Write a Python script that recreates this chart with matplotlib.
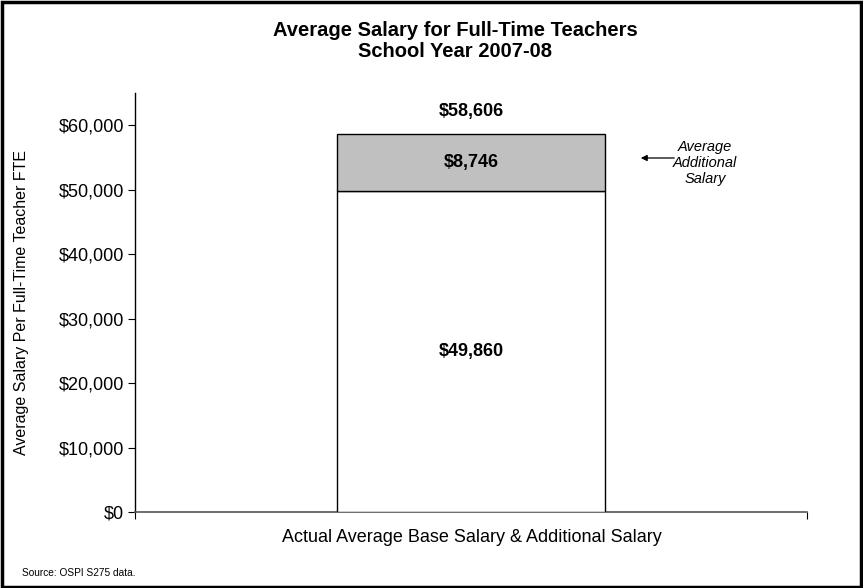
import matplotlib
matplotlib.use('Agg')
import matplotlib.pyplot as plt
import matplotlib.ticker
from matplotlib.patches import Rectangle

plt.rcParams['font.family'] = ['Liberation Sans', 'DejaVu Sans']

category = ['Actual Average Base Salary & Additional Salary']
base_salary = [49860]
additional_salary = [8746]
total_salary = [58606]
y_ticks = [0, 10000, 20000, 30000, 40000, 50000, 60000]

C_BASE = '#FFFFFF'
C_ADD = '#C0C0C0'

W, H = 863, 588
fig = plt.figure(figsize=(W / 100, H / 100), dpi=100)
ax = fig.add_axes([135 / W, 1 - 512 / H, (807 - 135) / W, (512 - 93) / H])

x = [0]
ax.bar(x, base_salary, 0.4, color=C_BASE, edgecolor='black', linewidth=1.0, zorder=3)
ax.bar(x, additional_salary, 0.4, bottom=base_salary, color=C_ADD,
       edgecolor='black', linewidth=1.0, zorder=3)

for i in range(len(x)):
    ax.text(x[i], base_salary[i] / 2, f'${base_salary[i]:,}', ha='center', va='center',
            fontsize=13, fontweight='bold')
    ax.text(x[i], base_salary[i] + additional_salary[i] / 2, f'${additional_salary[i]:,}',
            ha='center', va='center', fontsize=13, fontweight='bold')
    ax.text(x[i], total_salary[i] + 3600, f'${total_salary[i]:,}', ha='center', va='center',
            fontsize=13, fontweight='bold')

ax.set_xlim(-0.5, 0.5)
ax.set_ylim(0, 65000)
ax.set_yticks(y_ticks)
ax.yaxis.set_major_formatter(matplotlib.ticker.FuncFormatter(lambda v, _: f'${v:,.0f}'))
ax.tick_params(axis='y', direction='out', length=5, width=0.8, labelsize=13, pad=3)
ax.set_xticks([-0.5, 0.5])
ax.set_xticklabels(['', ''])
ax.tick_params(axis='x', direction='out', length=5, width=0.8)
ax.spines[['top', 'right']].set_visible(False)
ax.spines['left'].set_linewidth(1.0)
ax.spines['bottom'].set_color('#555555')
ax.spines['bottom'].set_linewidth(1.2)

ax.set_ylabel('Average Salary Per Full-Time Teacher FTE', fontsize=11.5, va='center')
ax.yaxis.set_label_coords((22 - 135) / (807 - 135), 0.5)
fig.text(472 / W, 1 - 537 / H, category[0], ha='center', va='center', fontsize=13)

fig.text(455 / W, 1 - 41 / H, 'Average Salary for Full-Time Teachers\nSchool Year 2007-08',
         ha='center', va='center', fontsize=14.5, fontweight='bold', linespacing=1.15)

# side note for the grey segment
ax.annotate('', xy=(638 / W, 1 - 158 / H), xycoords='figure fraction',
            xytext=(677 / W, 1 - 158 / H), textcoords='figure fraction',
            arrowprops=dict(arrowstyle='-|>', color='black', lw=0.9, mutation_scale=9))
fig.text(705 / W, 1 - 163 / H, 'Average\nAdditional\nSalary', ha='center', va='center',
         fontsize=10.5, style='italic', linespacing=1.2)

fig.text(22 / W, 1 - 573 / H, 'Source: OSPI S275 data.', ha='left', va='center', fontsize=7.3)

fig.patches.append(Rectangle((0.002, 0.002), 0.996, 0.995, transform=fig.transFigure,
                             fill=False, edgecolor='black', linewidth=2.5))

fig.savefig('out.png', dpi=100)
plt.close(fig)
